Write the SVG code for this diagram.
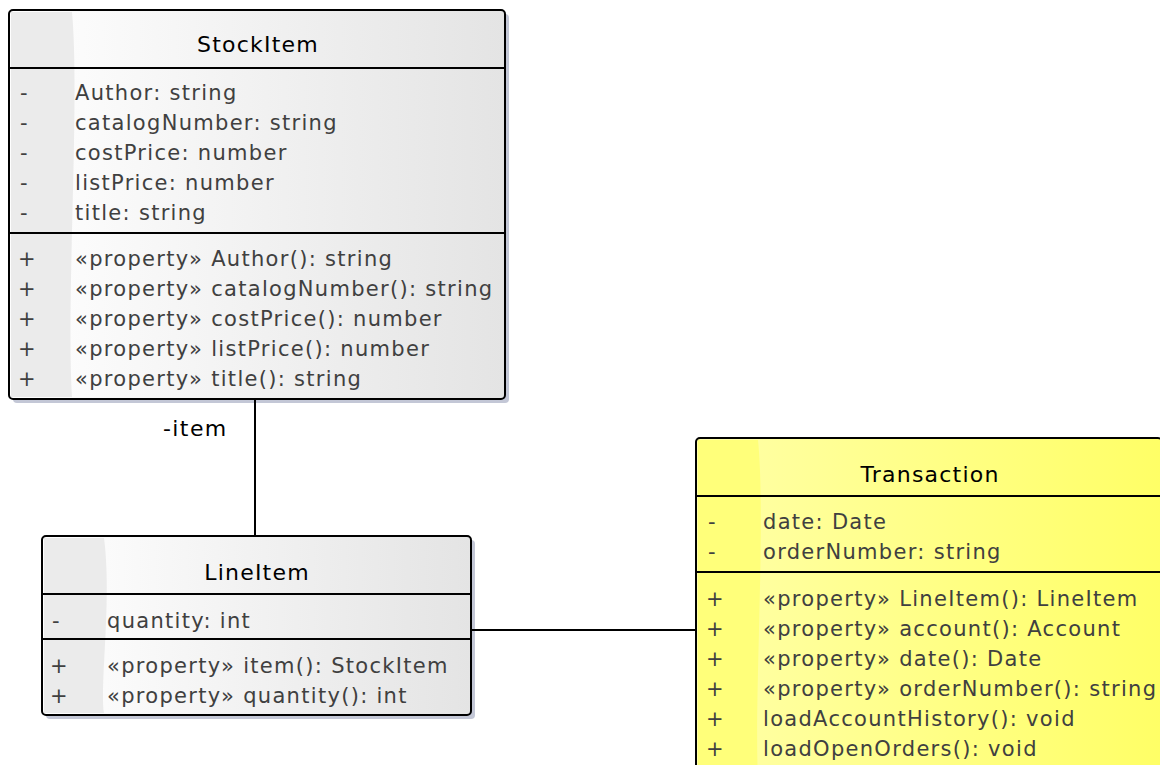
<svg xmlns="http://www.w3.org/2000/svg" width="1160" height="765" viewBox="0 0 1160 765">
  <defs>
    <linearGradient id="grayFill" x1="0" y1="0" x2="1" y2="0">
      <stop offset="0" stop-color="#ffffff"/>
      <stop offset="1" stop-color="#e4e4e4"/>
    </linearGradient>
    <linearGradient id="yellowFill" x1="0" y1="0" x2="1" y2="0">
      <stop offset="0" stop-color="#ffffa8"/>
      <stop offset="1" stop-color="#ffff66"/>
    </linearGradient>
    <style>
      .shadow { fill: #c3c7d6; }
      .box { stroke: #000; stroke-width: 2; }
      .sep { stroke: #000; stroke-width: 2; }
      .title { font-family: "DejaVu Sans", Verdana, sans-serif; font-size: 22px; letter-spacing: 1.2px; fill: #000; text-anchor: middle; }
      .member { font-family: "DejaVu Sans", Verdana, sans-serif; font-size: 21px; letter-spacing: 1.3px; fill: #404040; }
      .label { font-family: "DejaVu Sans", Verdana, sans-serif; font-size: 22px; letter-spacing: 1.4px; fill: #000; }
      .edge { stroke: #000; stroke-width: 2; fill: none; }
    </style>
  </defs>

  <rect width="1160" height="765" fill="#ffffff"/>

  <!-- StockItem class -->
  <g id="StockItem">
    <rect class="shadow" x="13" y="14" width="496" height="389" rx="4"/>
    <rect x="9" y="10" width="496" height="389" rx="4" fill="url(#grayFill)"/>
    <path d="M11 12 H72 C80 100 66 300 72 397 H11 Z" fill="#ebebeb"/>
    <rect class="box" x="9" y="10" width="496" height="389" rx="4" fill="none"/>
    <line class="sep" x1="9" y1="68" x2="505" y2="68"/>
    <line class="sep" x1="9" y1="233" x2="505" y2="233"/>
    <text class="title" x="258" y="52">StockItem</text>
    <g class="member">
      <text x="20" y="100">-</text><text x="75" y="100">Author: string</text>
      <text x="20" y="130">-</text><text x="75" y="130">catalogNumber: string</text>
      <text x="20" y="160">-</text><text x="75" y="160">costPrice: number</text>
      <text x="20" y="190">-</text><text x="75" y="190">listPrice: number</text>
      <text x="20" y="220">-</text><text x="75" y="220">title: string</text>
      <text x="18" y="266">+</text><text x="75" y="266">«property» Author(): string</text>
      <text x="18" y="296">+</text><text x="75" y="296">«property» catalogNumber(): string</text>
      <text x="18" y="326">+</text><text x="75" y="326">«property» costPrice(): number</text>
      <text x="18" y="356">+</text><text x="75" y="356">«property» listPrice(): number</text>
      <text x="18" y="386">+</text><text x="75" y="386">«property» title(): string</text>
    </g>
  </g>

  <!-- LineItem class -->
  <g id="LineItem">
    <rect class="shadow" x="46" y="540" width="429" height="179" rx="4"/>
    <rect x="42" y="536" width="429" height="179" rx="4" fill="url(#grayFill)"/>
    <path d="M44 538 H104 C112 600 100 680 104 713 H44 Z" fill="#ebebeb"/>
    <rect class="box" x="42" y="536" width="429" height="179" rx="4" fill="none"/>
    <line class="sep" x1="42" y1="594" x2="471" y2="594"/>
    <line class="sep" x1="42" y1="639" x2="471" y2="639"/>
    <text class="title" x="257" y="580">LineItem</text>
    <g class="member">
      <text x="52" y="628">-</text><text x="107" y="628">quantity: int</text>
      <text x="50" y="673">+</text><text x="107" y="673">«property» item(): StockItem</text>
      <text x="50" y="703">+</text><text x="107" y="703">«property» quantity(): int</text>
    </g>
  </g>

  <!-- Transaction class -->
  <g id="Transaction">
    <rect x="696" y="438" width="466" height="340" rx="4" fill="url(#yellowFill)"/>
    <path d="M698 440 H758 C766 520 754 700 758 778 H698 Z" fill="#ffff7a"/>
    <rect class="box" x="696" y="438" width="466" height="340" rx="4" fill="none"/>
    <line class="sep" x1="696" y1="496" x2="1162" y2="496"/>
    <line class="sep" x1="696" y1="572" x2="1162" y2="572"/>
    <text class="title" x="930" y="482">Transaction</text>
    <g class="member">
      <text x="708" y="529">-</text><text x="763" y="529">date: Date</text>
      <text x="708" y="559">-</text><text x="763" y="559">orderNumber: string</text>
      <text x="706" y="606">+</text><text x="763" y="606">«property» LineItem(): LineItem</text>
      <text x="706" y="636">+</text><text x="763" y="636">«property» account(): Account</text>
      <text x="706" y="666">+</text><text x="763" y="666">«property» date(): Date</text>
      <text x="706" y="696">+</text><text x="763" y="696">«property» orderNumber(): string</text>
      <text x="706" y="726">+</text><text x="763" y="726">loadAccountHistory(): void</text>
      <text x="706" y="756">+</text><text x="763" y="756">loadOpenOrders(): void</text>
    </g>
  </g>

  <!-- connectors -->
  <g id="connectors">
    <line class="edge" x1="255" y1="399" x2="255" y2="536"/>
    <text class="label" x="163" y="436">-item</text>
    <line class="edge" x1="471" y1="630" x2="696" y2="630"/>
  </g>
</svg>
